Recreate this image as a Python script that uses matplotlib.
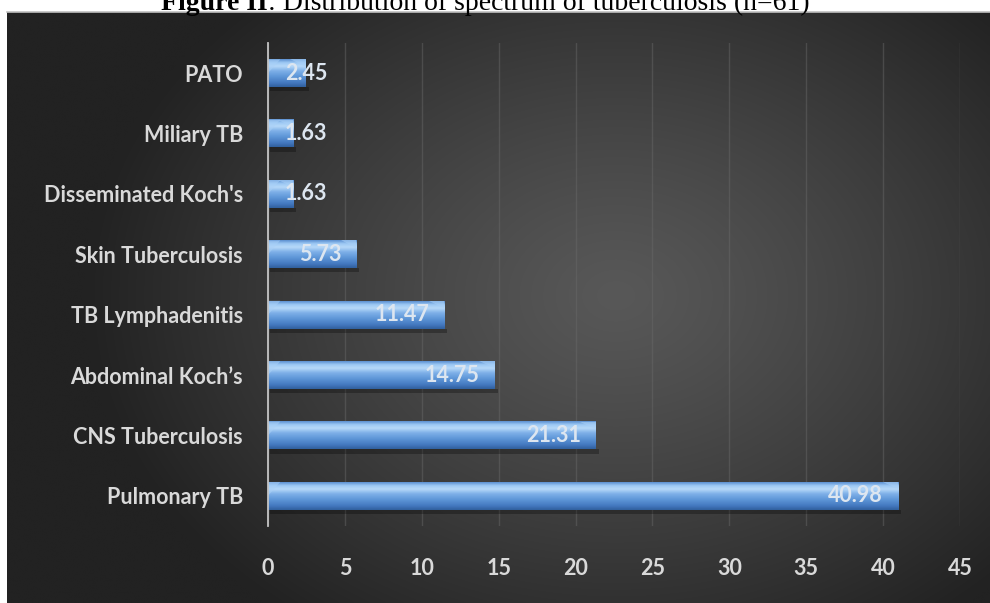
import numpy as np
import matplotlib.pyplot as plt
from matplotlib.colors import LinearSegmentedColormap
from matplotlib.patches import Polygon, Rectangle

# ---------------- data ----------------
categories = ["Pulmonary TB", "CNS Tuberculosis", "Abdominal Koch\u2019s", "TB Lymphadenitis",
              "Skin Tuberculosis", "Disseminated Koch's", "Miliary TB", "PATO"]
values = [40.98, 21.31, 14.75, 11.47, 5.73, 1.63, 1.63, 2.45]
x_ticks = [0, 5, 10, 15, 20, 25, 30, 35, 40, 45]

W, H = 990, 603
fig = plt.figure(figsize=(W / 100, H / 100), dpi=100, facecolor='white')

##---------------------- dark gradient panel ----------------------------
bg = fig.add_axes([7 / W, 0, 1 - 7 / W, (H - 12) / H])
yy, xx = np.mgrid[0:1:300j, 0:1:500j]
r = np.sqrt(((xx - 0.62) / 0.75) ** 2 + ((yy - 0.48) / 0.95) ** 2)
t = np.clip(r / 0.72, 0, 1) ** 1.2
lum = (0x58 * (1 - t) + 0x22 * t) / 255.0
bg.imshow(np.dstack([lum, lum, lum]), aspect='auto', extent=[0, 1, 0, 1], interpolation='bicubic')
bg.set_xticks([])
bg.set_yticks([])
for s in ['left', 'right', 'bottom']:
    bg.spines[s].set_visible(False)
bg.spines['top'].set_color('#c0c0c0')
bg.spines['top'].set_linewidth(1.2)

##---------------------- title (cut at the top) --------------------------
split_x = 268 / W
fig.text(split_x, 0.9834, 'Figure II', family='Liberation Serif', fontweight='bold',
         fontsize=20, ha='right', va='baseline', color='black')
fig.text(split_x, 0.9834, ': Distribution of spectrum of tuberculosis (n=61)',
         family='Liberation Serif', fontsize=20, ha='left', va='baseline', color='black')

##---------------------- bar chart -------------------------------------
ax = fig.add_axes([268 / W, (H - 526) / H, (960 - 268) / W, (526 - 43) / H])
ax.set_facecolor('none')

bar_cmap = LinearSegmentedColormap.from_list('bar', [
    (0.0, '#5b8fd0'), (0.12, '#9cc8f4'), (0.25, '#b7d9f9'), (0.42, '#7eb0e8'),
    (0.62, '#5f97d8'), (0.85, '#4479c0'), (1.0, '#30609e')])
grad = np.linspace(0, 1, 100).reshape(-1, 1)
h = 0.46
font = dict(family='Lato', fontweight='bold', fontsize=15.5)

for i, v in enumerate(values):
    top = i + h / 2
    bot = i - h / 2
    # shadow under the bar
    ax.add_patch(Rectangle((0.1, bot - 0.07), v + 0.1, 0.07, color='black', alpha=0.28, lw=0, zorder=2))
    ax.imshow(grad, extent=[0, v, bot, top], aspect='auto', origin='upper', cmap=bar_cmap,
              interpolation='bicubic', zorder=3)
    # bevel at the ends
    d = min(0.8, v)
    ax.add_patch(Polygon([(0, top), (d, top), (0, i)], closed=True, color='#a9d0f7', alpha=0.55, lw=0, zorder=4))
    ax.add_patch(Polygon([(v - 1.0, top), (v, top), (v, top - 0.12)], closed=True, color='#a9d0f7', alpha=0.6, lw=0, zorder=4))

    if v > 4:
        ax.annotate(f'{v:.2f}', xy=(v, i), xytext=(-10.8, 0), textcoords='offset points',
                    ha='right', va='center', color='#dde6f0', zorder=5, **font)
    else:
        ax.annotate(f'{v:.2f}', xy=(0, i), xytext=(12.2, 0), textcoords='offset points',
                    ha='left', va='center', color='#dde6f0', zorder=5, **font)

ax.set_xlim(0, 45)
ax.set_ylim(-0.5, len(values) - 0.5)
ax.set_xticks(x_ticks)
ax.set_xticklabels([str(x) for x in x_ticks], color='#d9d9d9', **font)
ax.set_yticks(range(len(categories)))
ax.set_yticklabels(categories, color='#d9d9d9', **font)
ax.tick_params(axis='x', length=0, pad=23)
ax.tick_params(axis='y', length=0, pad=18)
ax.grid(axis='x', color='#6a6a6a', linewidth=1, alpha=0.45, zorder=0)
ax.set_axisbelow(True)
for s in ['top', 'right', 'bottom']:
    ax.spines[s].set_visible(False)
ax.spines['left'].set_color('#c4c4c4')
ax.spines['left'].set_linewidth(1.3)
ax.spines['left'].set_zorder(6)

plt.savefig('out.png', dpi=100, facecolor='white')
